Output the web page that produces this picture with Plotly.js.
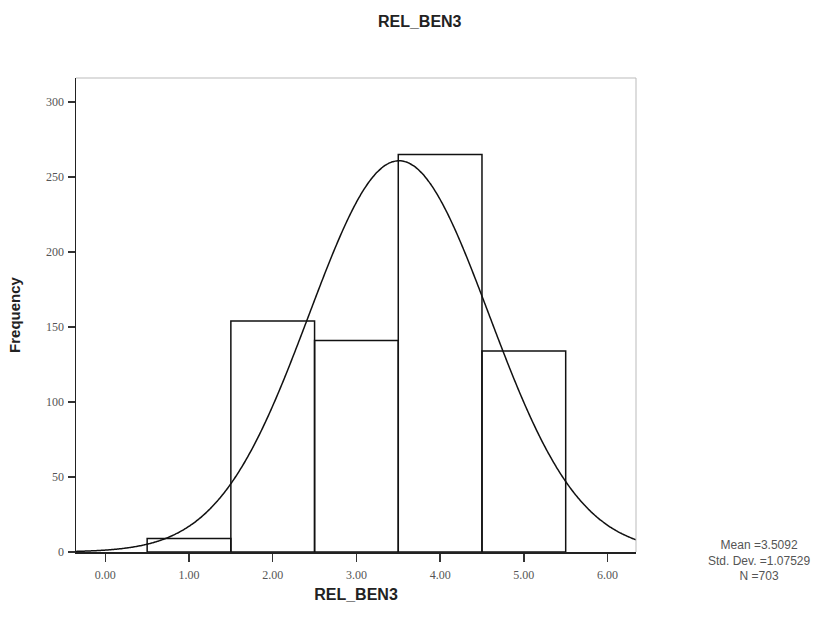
<!DOCTYPE html>
<html>
<head>
<meta charset="utf-8">
<script src="https://cdn.plot.ly/plotly-3.0.1.min.js"></script>
<style>html,body{margin:0;padding:0;background:#fff;}#chart{width:823px;height:623px;}</style>
</head>
<body>
<div id="chart"></div>
<script>
// Histogram bins (centers) and frequencies
const binCenters = [1, 2, 3, 4, 5];
const frequencies = [9, 154, 141, 265, 134];
const xTickVals = [0, 1, 2, 3, 4, 5, 6];
const xTickText = ["0.00", "1.00", "2.00", "3.00", "4.00", "5.00", "6.00"];
const yTickVals = [0, 50, 100, 150, 200, 250, 300];
// Summary statistics shown on the chart
const meanVal = 3.5092;
const sdVal = 1.07529;
const nVal = 703;
const binWidth = 1;

// Fitted normal curve from the displayed statistics
const curveX = [];
const curveY = [];
const xMin = -0.35, xMax = 6.34;
for (let i = 0; i <= 400; i++) {
  const x = xMin + (xMax - xMin) * i / 400;
  const z = (x - meanVal) / sdVal;
  curveX.push(x);
  curveY.push(nVal * binWidth * Math.exp(-0.5 * z * z) / (sdVal * Math.sqrt(2 * Math.PI)));
}

const traces = [
  {
    type: 'bar', x: binCenters, y: frequencies, width: binWidth,
    marker: {color: 'rgba(255,255,255,0)', line: {color: '#111', width: 1.5}},
    hoverinfo: 'skip', showlegend: false
  },
  {
    type: 'scatter', mode: 'lines', x: curveX, y: curveY,
    line: {color: '#111', width: 1.5, shape: 'spline'}, hoverinfo: 'skip', showlegend: false
  }
];

const tickFont = {family: 'Liberation Serif, Times New Roman, serif', size: 12, color: '#555'};
const layout = {
  width: 823, height: 623,
  margin: {l: 76, r: 187, t: 78, b: 71},
  paper_bgcolor: '#fff', plot_bgcolor: '#fff',
  title: {
    text: '<b>REL_BEN3</b>', xref: 'container', x: 0.51, xanchor: 'center',
    yref: 'container', y: 0.965, yanchor: 'middle',
    font: {family: 'Liberation Sans, Arial, sans-serif', size: 16, color: '#222'}
  },
  xaxis: {
    range: [xMin, xMax], tickvals: xTickVals, ticktext: xTickText,
    ticks: 'outside', ticklen: 8, tickcolor: '#333', tickwidth: 1.5,
    showgrid: false, zeroline: false, showline: true, linecolor: '#222', linewidth: 1.5,
    tickfont: tickFont, ticklabelstandoff: 3,
    title: {text: '<b>REL_BEN3</b>', standoff: 8,
      font: {family: 'Liberation Sans, Arial, sans-serif', size: 16, color: '#222'}}
  },
  yaxis: {
    range: [0, 316], tickvals: yTickVals,
    ticks: 'outside', ticklen: 7, tickcolor: '#333', tickwidth: 1.5,
    showgrid: false, zeroline: false, showline: true, linecolor: '#222', linewidth: 1.5,
    tickfont: tickFont, ticklabelstandoff: 1,
    title: {text: '<b>Frequency</b>', standoff: 22,
      font: {family: 'Liberation Sans, Arial, sans-serif', size: 15, color: '#222'}}
  },
  shapes: [
    {type: 'line', xref: 'paper', yref: 'paper', x0: 0, x1: 1, y0: 1, y1: 1, line: {color: '#bbb', width: 1}},
    {type: 'line', xref: 'paper', yref: 'paper', x0: 1, x1: 1, y0: 0, y1: 1, line: {color: '#bbb', width: 1}}
  ],
  annotations: [
    {xref: 'paper', yref: 'paper', x: 1.22, y: -0.017, xanchor: 'center', yanchor: 'middle',
     showarrow: false, align: 'center',
     text: 'Mean =' + meanVal.toFixed(4) + '<br>Std. Dev. =' + sdVal.toFixed(5) + '<br>N =' + nVal,
     font: {family: 'Liberation Sans, Arial, sans-serif', size: 12, color: '#555'}}
  ]
};

Plotly.newPlot('chart', traces, layout, {displayModeBar: false, staticPlot: true});
</script>
</body>
</html>
